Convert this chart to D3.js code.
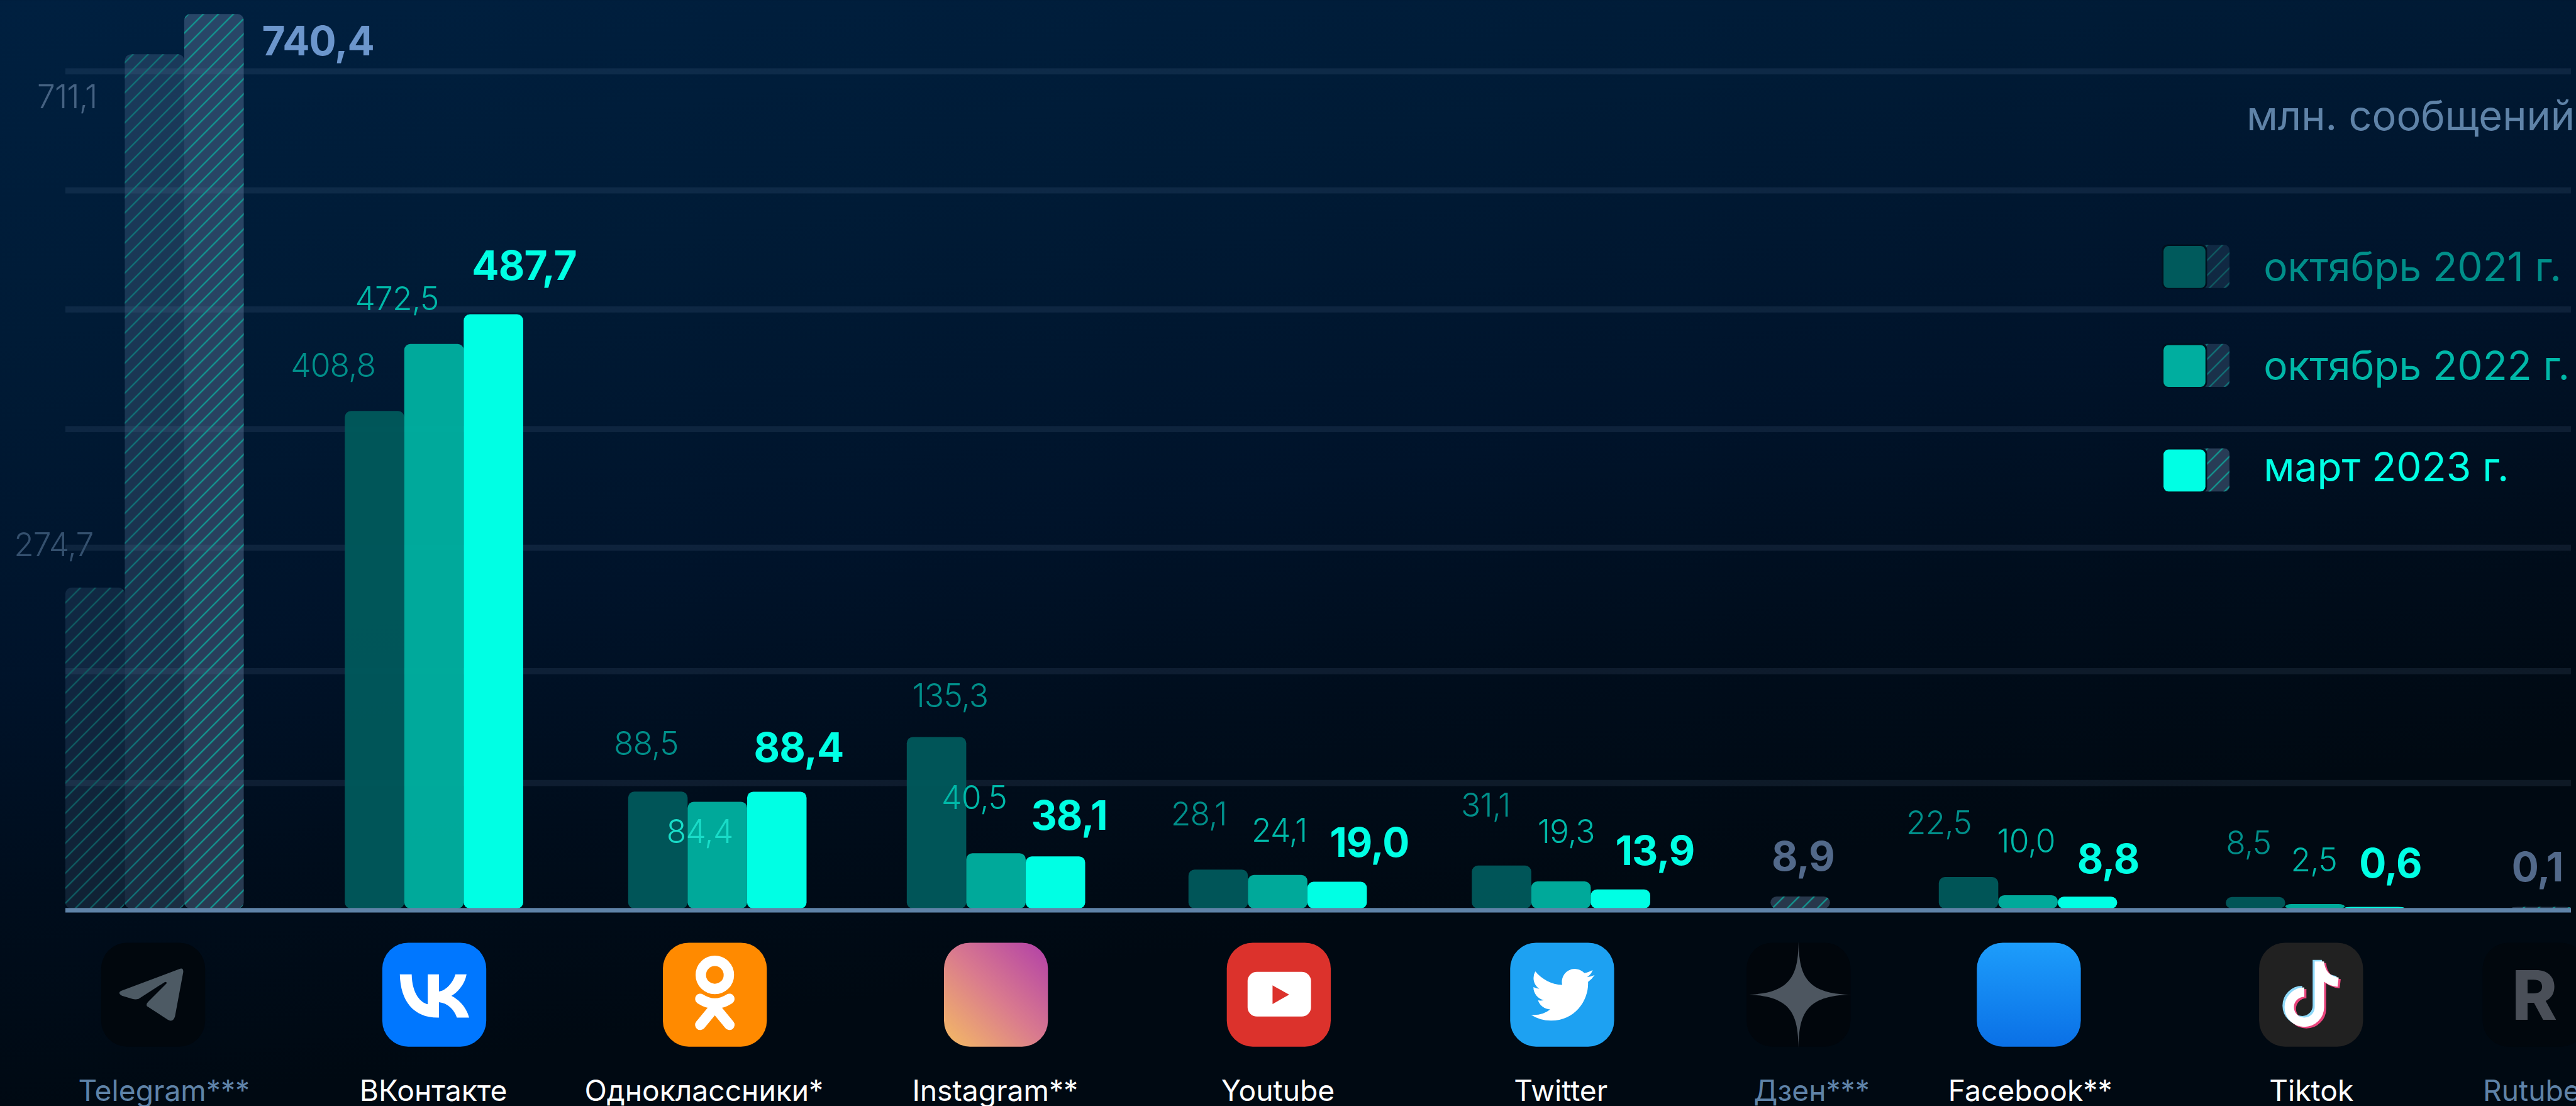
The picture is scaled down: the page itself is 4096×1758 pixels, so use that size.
<!DOCTYPE html>
<html lang="ru">
<head>
<meta charset="utf-8">
<title>Сообщения в соцсетях</title>
<script src="https://cdn.jsdelivr.net/npm/d3@7"></script>
<style>
    html, body { margin: 0; padding: 0; background: #000c18; overflow: hidden; }
    svg { display: block; }
    text { font-family: Inter, "Noto Sans", sans-serif; }
</style>
</head>
<body>
<svg class="chart"></svg>
<script>
const categories = ['Telegram***', 'ВКонтакте', 'Одноклассники*', 'Instagram**', 'Youtube', 'Twitter', 'Дзен***', 'Facebook**', 'Tiktok', 'Rutube'];
const restricted = ['Telegram***', 'Дзен***', 'Rutube'];
const seriesNames = ['октябрь 2021 г.', 'октябрь 2022 г.', 'март 2023 г.'];
const oct2021 = [274.7, 408.8, 88.5, 135.3, 28.1, 31.1, null, 22.5, 8.5, null];
const oct2022 = [711.1, 472.5, 84.4, 40.5, 24.1, 19.3, null, 10.0, 2.5, null];
const mar2023 = [740.4, 487.7, 88.4, 38.1, 19.0, 13.9, 8.9, 8.8, 0.6, 0.1];
const gridValues = [100, 200, 300, 400, 500, 600, 700];

// the picture is laid out in reference pixels, the viewBox brings it to the window
const width = 4609;
const height = 1978;
const barWidth = 106.4;
const left = 117;
const right = 4600;
const base = 1625;

const colors = ['#005a5c', '#00ae9f', '#00ffe4'];
const labelColors = ['#008f8a', '#00b8a8', '#00ffe4'];
const mutedLabels = ['#34506e', '#456282', '#6c96cc'];
const hatchBase = ['rgba(85,125,165,0.19)', 'rgba(95,130,165,0.28)', 'rgba(105,135,170,0.38)'];
const hatchLine = ['#0e5c62', '#107378', '#129690'];

const svg = d3.select('.chart')
    .attr('width', 4096)
    .attr('height', 1758)
    .attr('viewBox', `0 0 ${width} ${height}`);

const defs = svg.append('defs');

const bg = defs.append('linearGradient')
    .attr('id', 'bg')
    .attr('gradientUnits', 'userSpaceOnUse')
    .attr('x1', 0).attr('y1', 0).attr('x2', 300).attr('y2', height);
[[0, '#002040'], [0.3, '#001b36'], [0.6, '#00132a'], [0.8, '#000d1c'], [1, '#000912']].forEach(([o, c]) => {
    bg.append('stop').attr('offset', o).attr('stop-color', c);
});

hatchLine.forEach((c, i) => {
    const p = defs.append('pattern')
        .attr('id', `hatch${i}`)
        .attr('patternUnits', 'userSpaceOnUse')
        .attr('width', 19).attr('height', 19)
        .attr('patternTransform', 'rotate(45)');
    p.append('line')
        .attr('x1', 9).attr('x2', 9).attr('y1', 0).attr('y2', 19)
        .attr('stroke', c).attr('stroke-width', 2.6);
});

const insta = defs.append('linearGradient')
    .attr('id', 'insta').attr('x1', 1).attr('y1', 0).attr('x2', 0).attr('y2', 1);
[[0, '#b13fa8'], [0.5, '#d97a8e'], [1, '#f5bc63']].forEach(([o, c]) => {
    insta.append('stop').attr('offset', o).attr('stop-color', c);
});
const fb = defs.append('linearGradient')
    .attr('id', 'fb').attr('x1', 0).attr('y1', 0).attr('x2', 0).attr('y2', 1);
[[0, '#1d9dfb'], [1, '#0a70e6']].forEach(([o, c]) => {
    fb.append('stop').attr('offset', o).attr('stop-color', c);
});

svg.append('rect').attr('width', width).attr('height', height).attr('fill', 'url(#bg)');

// bars in the source are not strictly proportional, hence the piecewise scale
const y = d3.scaleLinear()
    .domain([0, 2.5, 10, 19, 31.1, 40.5, 84.4, 88.4, 135.3, 274.7, 408.8, 472.5, 487.7, 711.1, 740.4])
    .range([base, 1617, 1601, 1577, 1548, 1526, 1434, 1416, 1318, 1051, 735, 615, 562, 97, 25]);

const gridY = d3.scaleLinear()
    .domain([0, 100, 200, 300, 400, 500, 600, 700])
    .range([base, 1400, 1200, 979, 767, 553, 340, 127]);

const xCenter = d3.scaleOrdinal()
    .domain(categories)
    .range([276.5, 776.5, 1283.5, 1782, 2286, 2793, 3221, 3628.5, 4142, 4547]);

const xIcon = d3.scaleOrdinal()
    .domain(categories)
    .range([274, 777, 1279, 1782, 2288, 2795, 3218, 3630, 4135, 4535]);

const xTick = d3.scaleOrdinal()
    .domain(categories)
    .range([293, 775, 1259, 1780, 2286, 2792, 3241, 3632, 4135, 4529]);

// grid
svg.append('g')
    .attr('transform', `translate(${left},0)`)
    .call(d3.axisRight(gridY).tickValues(gridValues).tickSize(right - left).tickFormat(''))
    .call(g => g.select('.domain').remove())
    .selectAll('line')
    .attr('stroke', 'rgba(150,190,230,0.09)')
    .attr('stroke-width', 11);

// bars
const seriesValues = [oct2021, oct2022, mar2023];
const bars = categories.flatMap((cat, c) => {
    const present = seriesValues.map((s, i) => (s[c] == null ? null : i)).filter(i => i != null);
    const cx = xCenter(cat);
    const band = d3.scaleBand()
        .domain(present)
        .range([cx - present.length * barWidth / 2, cx + present.length * barWidth / 2]);
    return present.map(i => ({ cat, series: i, value: seriesValues[i][c], x: band(i), w: band.bandwidth() }));
});

const barTop = d => Math.min(y(d.value), base - 3);

const barG = svg.append('g');
barG.selectAll('.bar')
    .data(bars)
    .enter().append('rect')
    .attr('class', 'bar')
    .attr('x', d => d.x)
    .attr('y', barTop)
    .attr('width', d => d.w)
    .attr('height', d => base - barTop(d))
    .attr('rx', 11)
    .attr('fill', d => (restricted.includes(d.cat) ? hatchBase[d.series] : colors[d.series]))
    .attr('opacity', d => (restricted.includes(d.cat) ? 1 : [0.95, 0.97, 1][d.series]));

barG.selectAll('.hatch')
    .data(bars.filter(d => restricted.includes(d.cat)))
    .enter().append('rect')
    .attr('class', 'hatch')
    .attr('x', d => d.x)
    .attr('y', barTop)
    .attr('width', d => d.w)
    .attr('height', d => base - barTop(d))
    .attr('rx', 11)
    .attr('fill', d => `url(#hatch${d.series})`);

// baseline
svg.append('line')
    .attr('x1', left).attr('x2', right)
    .attr('y1', gridY(0) + 3).attr('y2', gridY(0) + 3)
    .attr('stroke', '#5f83a8')
    .attr('stroke-width', 8);

// value labels sit by hand in the source: centre x and baseline of each one
const labelSpots = {
    'Telegram***': [[96, 995], [120, 194], [569, 99]],
    'ВКонтакте': [[596, 674], [710, 555], [938, 501]],
    'Одноклассники*': [[1156, 1350], [1252, 1508], [1429, 1363]],
    'Instagram**': [[1700, 1265], [1743, 1447], [1913, 1484]],
    'Youtube': [[2145, 1476], [2289, 1505], [2450, 1533]],
    'Twitter': [[2658, 1460], [2802, 1508], [2961, 1547]],
    'Дзен***': [null, null, [3226, 1557]],
    'Facebook**': [[3469, 1492], [3625, 1525], [3772, 1562]],
    'Tiktok': [[4023, 1528], [4140, 1558], [4277, 1570]],
    'Rutube': [null, null, [4540, 1576]]
};

const ruNumber = d3.formatLocale({ decimal: ',', thousands: ' ', grouping: [3], currency: ['', ''] }).format('.1f');

const labelFill = d => {
    if (d.cat === 'Одноклассники*' && d.series === 1) return '#19dcc8';
    if (d.cat === 'Дзен***' || d.cat === 'Rutube') return '#52698a';
    return restricted.includes(d.cat) ? mutedLabels[d.series] : labelColors[d.series];
};

svg.append('g').selectAll('text')
    .data(bars)
    .enter().append('text')
    .attr('x', d => labelSpots[d.cat][d.series][0])
    .attr('y', d => labelSpots[d.cat][d.series][1])
    .attr('text-anchor', 'middle')
    .attr('font-size', d => (d.series === 2 ? 72 : 58))
    .attr('font-weight', d => (d.series === 2 ? 700 : 300))
    .attr('letter-spacing', -1)
    .attr('fill', labelFill)
    .text(d => ruNumber(d.value));

// category labels
svg.append('g')
    .attr('transform', 'translate(0,1969)')
    .call(d3.axisBottom(xTick).tickSize(0).tickPadding(0))
    .call(g => g.select('.domain').remove())
    .selectAll('text')
    .attr('dy', 0)
    .attr('y', 0)
    .attr('font-size', 52)
    .attr('font-family', 'Inter, sans-serif')
    .attr('fill', d => (restricted.includes(d) ? '#5f83a8' : '#ffffff'))
    .attr('text-anchor', 'middle');

// unit + legend
svg.append('text')
    .attr('x', 4607).attr('y', 233)
    .attr('text-anchor', 'end')
    .attr('font-size', 73)
    .attr('fill', '#5f83a8')
    .text('млн. сообщений');

const legendRow = d3.scaleOrdinal().domain(seriesNames).range([477, 654, 841]);
const legendBaseline = d3.scaleOrdinal().domain(seriesNames).range([26, 25, 20]);
const legend = svg.selectAll('.legend')
    .data(seriesNames)
    .enter().append('g')
    .attr('class', 'legend')
    .attr('transform', d => `translate(3871,${legendRow(d)})`);

legend.append('rect')
    .attr('x', 58).attr('y', -39).attr('width', 60).attr('height', 77).attr('rx', 9)
    .attr('fill', (d, i) => hatchBase[i]);
legend.append('rect')
    .attr('x', 58).attr('y', -39).attr('width', 60).attr('height', 77).attr('rx', 9)
    .attr('fill', (d, i) => `url(#hatch${i})`);
legend.append('rect')
    .attr('x', -3).attr('y', -40).attr('width', 81).attr('height', 80).attr('rx', 10)
    .attr('fill', '#00101f');
legend.append('rect')
    .attr('x', 0).attr('y', -37).attr('width', 75).attr('height', 75).attr('rx', 9)
    .attr('fill', (d, i) => colors[i]);
legend.append('text')
    .attr('x', 179).attr('y', d => legendBaseline(d))
    .attr('font-size', 72)
    .attr('fill', (d, i) => labelColors[i])
    .text(d => d);

// platform icons, each drawn in a 100x100 box
const iconSize = 186;
const iconY = 1686;
const iconBg = {
    'Telegram***': '#01070d', 'ВКонтакте': '#0077ff', 'Одноклассники*': '#ff8a00',
    'Instagram**': 'url(#insta)', 'Youtube': '#dc322c', 'Twitter': '#1da1f2',
    'Дзен***': '#01060c', 'Facebook**': 'url(#fb)', 'Tiktok': '#212121', 'Rutube': '#01070d'
};

const icon = svg.selectAll('.icon')
    .data(categories)
    .enter().append('g')
    .attr('class', 'icon')
    .attr('transform', d => `translate(${xIcon(d) - iconSize / 2},${iconY}) scale(${iconSize / 100})`);

icon.append('rect')
    .attr('width', 100).attr('height', 100).attr('rx', 25)
    .attr('fill', d => iconBg[d]);

const glyph = name => icon.filter(d => d === name);

glyph('Telegram***').append('path')
    .attr('d', 'M76 25 Q79 24 79 28 L71 71 Q69 77 64 74 L44 61 Q43 59 45 57 L63 39 Q63 37 61 38 L36 54 Q33 55 30 54 L20 51 Q15 48 20 46 Z')
    .attr('fill', '#4d5a64');

glyph('ВКонтакте').append('path')
    .attr('transform', `scale(${100 / 48})`)
    .attr('d', 'M25.54 34.58c-10.94 0-17.18-7.5-17.44-19.98h5.48c.18 9.16 4.22 13.04 7.42 13.84V14.6h5.16v7.9c3.16-.34 6.48-3.94 7.6-7.9h5.16c-.86 4.88-4.46 8.48-7.02 9.96 2.56 1.2 6.66 4.34 8.22 10.02h-5.68c-1.22-3.8-4.26-6.74-8.28-7.14v7.14h-.62z')
    .attr('fill', '#fff');

const ok = glyph('Одноклассники*');
ok.append('circle').attr('cx', 50).attr('cy', 31).attr('r', 13.5)
    .attr('fill', 'none').attr('stroke', '#fff').attr('stroke-width', 10);
ok.append('path').attr('d', 'M36 54 Q50 63 64 54 M50 62 L36 79 M50 62 L64 79')
    .attr('fill', 'none').attr('stroke', '#fff').attr('stroke-width', 10).attr('stroke-linecap', 'round');

const yt = glyph('Youtube');
yt.append('rect').attr('x', 20).attr('y', 28).attr('width', 61).attr('height', 43).attr('rx', 9).attr('fill', '#fff');
yt.append('path').attr('d', 'M44 41 L60 50 L44 59 Z').attr('fill', '#dc322c');

glyph('Twitter').append('path')
    .attr('transform', 'translate(20,19.5) scale(2.55)')
    .attr('d', 'M23.953 4.57a10 10 0 01-2.825.775 4.958 4.958 0 002.163-2.723c-.951.555-2.005.959-3.127 1.184a4.92 4.92 0 00-8.384 4.482C7.69 8.095 4.067 6.13 1.64 3.162a4.822 4.822 0 00-.666 2.475c0 1.71.87 3.213 2.188 4.096a4.904 4.904 0 01-2.228-.616v.06a4.923 4.923 0 003.946 4.827 4.996 4.996 0 01-2.212.085 4.936 4.936 0 004.604 3.417 9.867 9.867 0 01-6.102 2.105c-.39 0-.779-.023-1.17-.067a13.995 13.995 0 007.557 2.209c9.053 0 13.998-7.496 13.998-13.985 0-.21 0-.42-.015-.63A9.935 9.935 0 0024 4.59z')
    .attr('fill', '#fff');

glyph('Дзен***').append('path')
    .attr('d', 'M50 -1 C50.5 30 56 49.5 101 50 C56 50.5 50.5 70 50 101 C49.5 70 44 50.5 -1 50 C44 49.5 49.5 30 50 -1 Z')
    .attr('fill', '#4d5660');

const note = glyph('Tiktok');
[['#8ed8f8', -2, -1.5], ['#e8447c', 2, 1.5], ['#ffffff', 0, 0]].forEach(([c, dx, dy]) => {
    note.append('path')
        .attr('transform', `translate(${dx},${dy})`)
        .attr('d', 'M58 18 V62 A14.5 14.5 0 1 1 43.5 47.5 M58 19 Q60 36 76 38')
        .attr('fill', 'none').attr('stroke', c).attr('stroke-width', 9);
});

glyph('Rutube').append('text')
    .attr('x', 50).attr('y', 74)
    .attr('text-anchor', 'middle')
    .attr('font-size', 66)
    .attr('font-weight', 800)
    .attr('fill', '#4a4f58')
    .text('R');
</script>
</body>
</html>
